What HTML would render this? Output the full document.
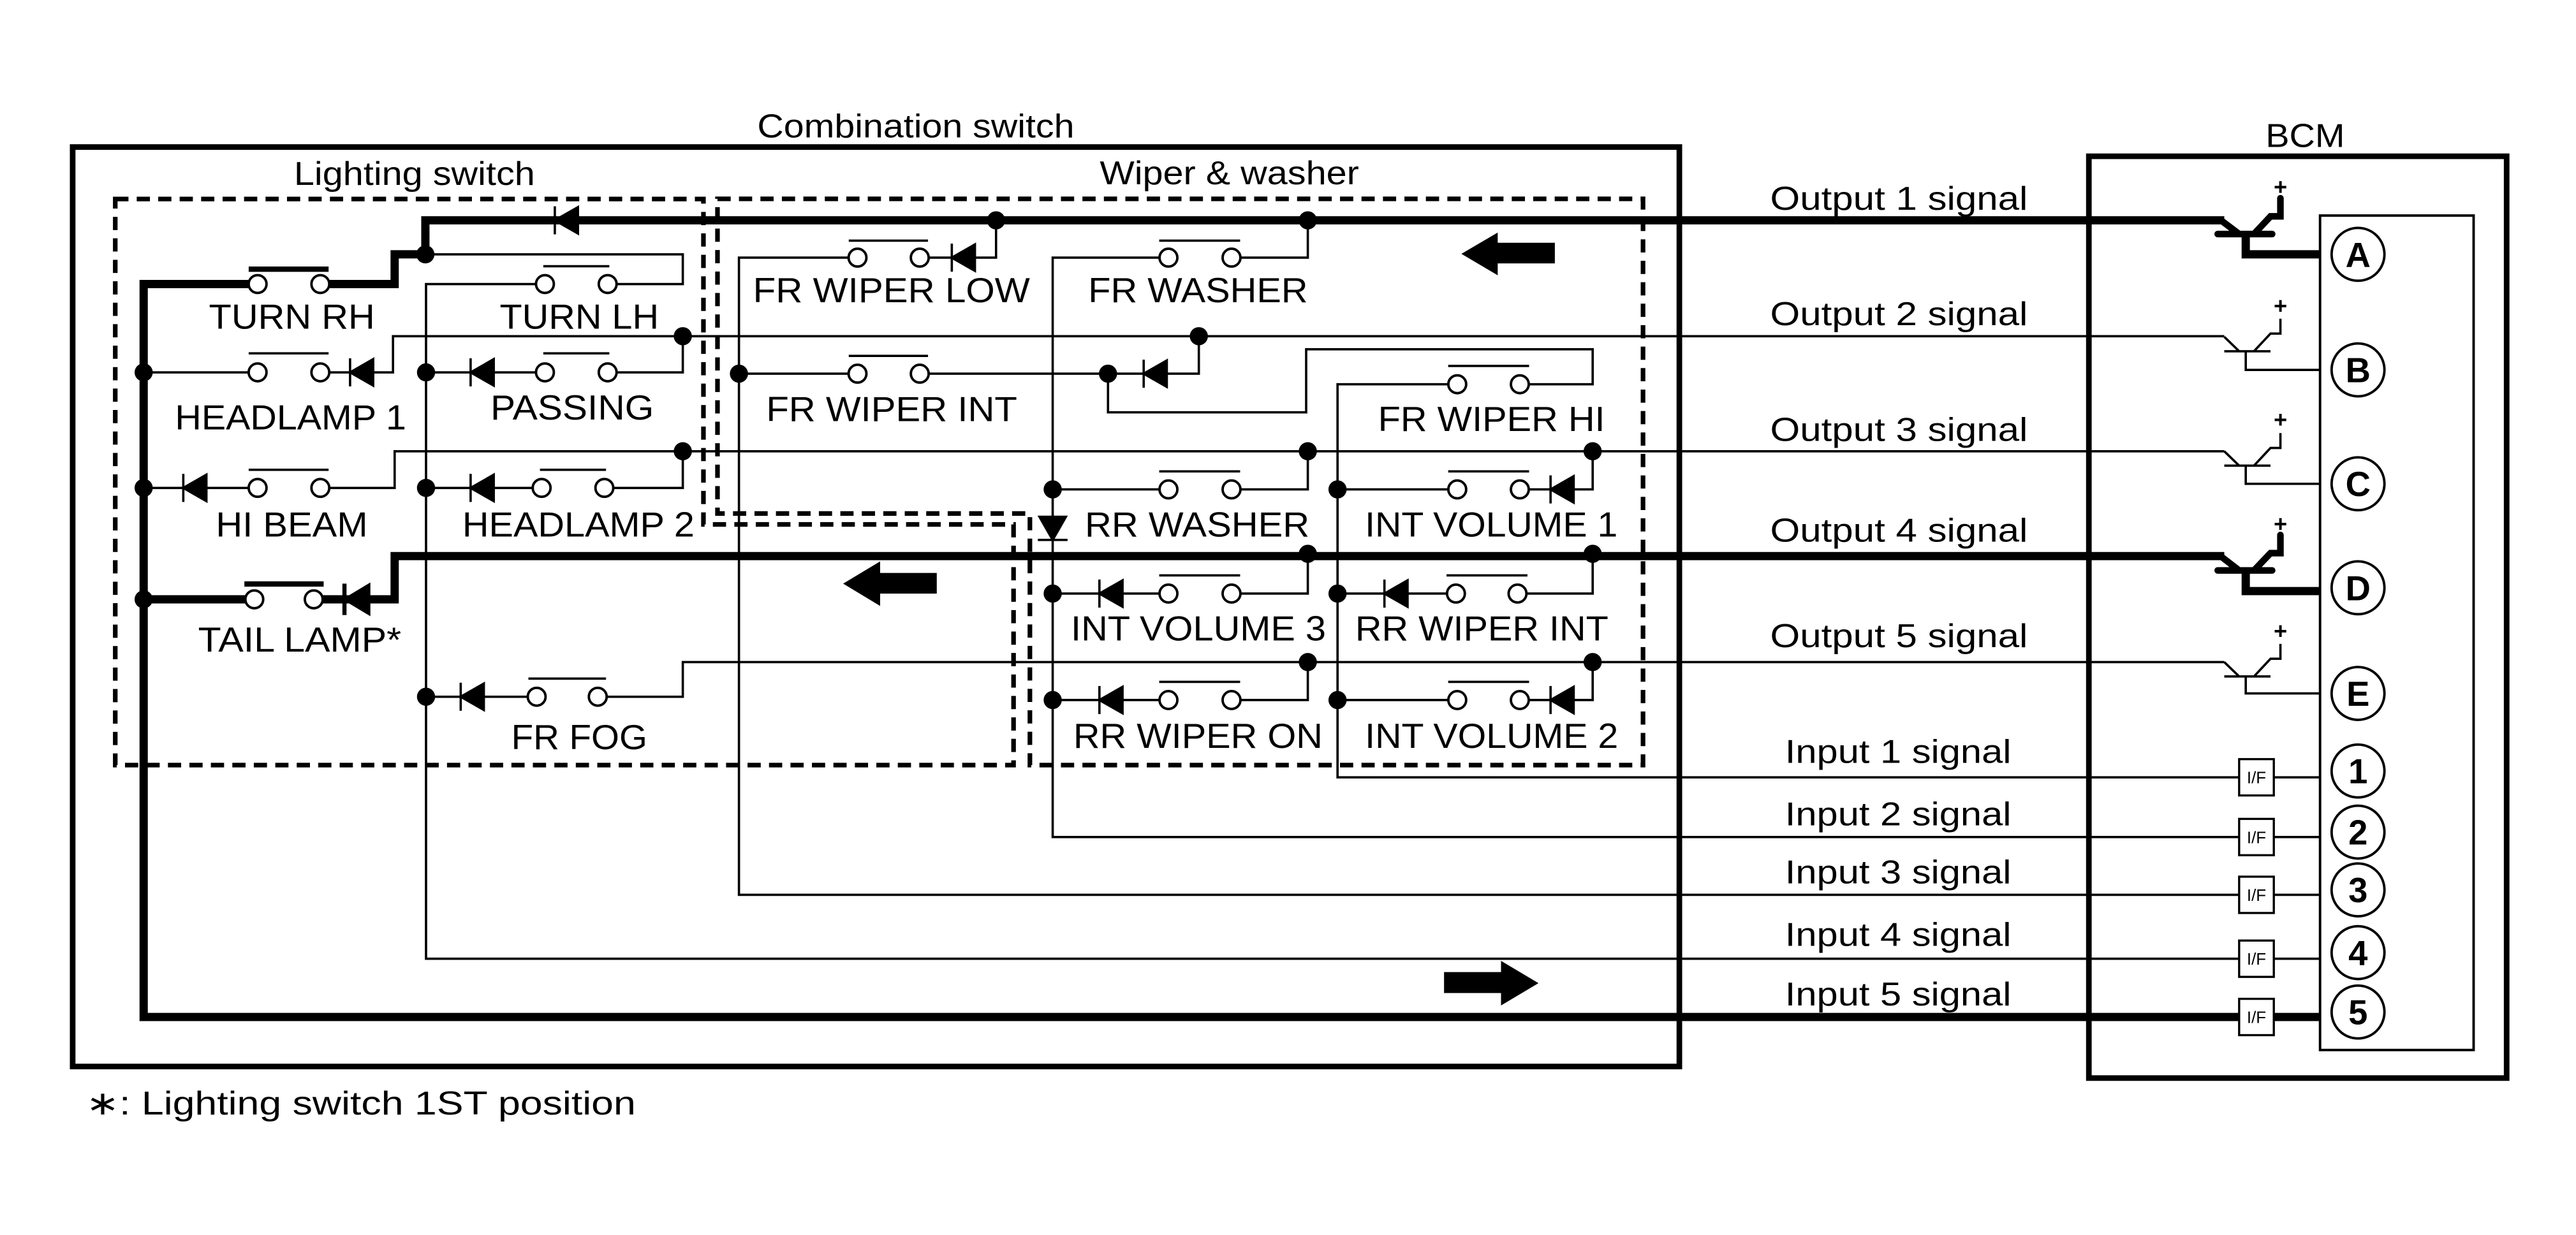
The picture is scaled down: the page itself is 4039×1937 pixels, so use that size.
<!DOCTYPE html>
<html><head><meta charset="utf-8"><style>
html,body{margin:0;padding:0;background:#fff;}
svg{display:block;}
text{font-family:"Liberation Sans",Arial,sans-serif;fill:#000;}
</style></head><body>
<svg width="4039" height="1937" viewBox="0 0 1560 748" xmlns="http://www.w3.org/2000/svg">
<defs>
<g id="dL"><polygon points="0,0 14,-8 14,8"/><line x1="0" y1="-8.5" x2="0" y2="8.5"/></g>
</defs>
<rect width="1560" height="748" fill="#fff"/>
<!-- boxes -->
<rect x="44" y="89" width="973" height="557" fill="none" stroke="#000" stroke-width="3.4"/>
<rect x="1265" y="94.6" width="253" height="558.4" fill="none" stroke="#000" stroke-width="3.4"/>
<rect x="1405" y="130.5" width="93" height="505.5" fill="none" stroke="#000" stroke-width="1.5"/>
<g fill="none" stroke="#000" stroke-width="2.8" stroke-dasharray="8,5">
<path d="M69.8 120.5 H426 V317.6 H613.8 V463.4 H69.8 Z"/>
<path d="M434.5 120.4 H995 V463.4 H623.7 V311 H434.5 Z"/>
</g>
<g font-size="20">
<text x="458.6" y="83.2" textLength="192" lengthAdjust="spacingAndGlyphs">Combination switch</text>
<text x="178" y="112" textLength="146" lengthAdjust="spacingAndGlyphs">Lighting switch</text>
<text x="666" y="111.6" textLength="157" lengthAdjust="spacingAndGlyphs">Wiper &amp; washer</text>
<text x="1372" y="89" textLength="48" lengthAdjust="spacingAndGlyphs">BCM</text>
<text x="52" y="675" textLength="333" lengthAdjust="spacingAndGlyphs">∗: Lighting switch 1ST position</text>
</g>
<!-- THICK lines -->
<g fill="none" stroke="#000" stroke-width="5" stroke-linejoin="miter">
<path d="M1347 133.4 H257.6 V154 H239 V172 H194"/>
<path d="M156 172 H87 V616 H1405"/>
<path d="M87 363 H154 M190 363 H239 V336.8 H1347"/>
<path d="M1360 141.7 V154 H1405"/>
<path d="M1360 346 V358 H1405"/>
</g>
<g stroke="#000" stroke-width="3.2" fill="none">
<line x1="150.6" y1="163" x2="199" y2="163"/>
<line x1="148" y1="353.7" x2="196" y2="353.7"/>
</g>
<!-- THIN lines -->
<g fill="none" stroke="#000" stroke-width="1.4">
<path d="M257.6 154 H413.5 V172 H368"/>
<path d="M330 172 H258 V580.7 H1405"/>
<path d="M87 225.5 H156 M194 225.5 H238 V203.6 H1347"/>
<path d="M413.5 203.6 V225.5 H368 M330 225.5 H258"/>
<path d="M87 295.5 H156 M194 295.5 H239 V273.3 H1347"/>
<path d="M413.5 273.3 V295.5 H366 M328 295.5 H258"/>
<path d="M258 422 H325 M362 422 H413.5 V401 H1347"/>
<path d="M603.2 133.4 V156 H557 M519.3 156 H447.5 V542 H1405"/>
<path d="M792 133.4 V156 H745.8 M707.6 156 H637.5 V507 H1405"/>
<path d="M447.5 226.3 H519.3 M557 226.3 H671 H726 V203.6"/>
<path d="M671 226.3 V249.7 H791 V211.5 H964.5 V232.7 H920.4 M882.5 232.7 H810 V470.8 H1405"/>
<path d="M637.5 296.4 H707.6 M745.8 296.4 H792 V273.3"/>
<path d="M810 296.4 H882.5 M920.4 296.4 H964.5 V273.3"/>
<path d="M637.5 359.5 H707.6 M745.8 359.5 H792 V335.4"/>
<path d="M810 359.5 H881.7 M919 359.5 H964.5 V335.4"/>
<path d="M637.5 424 H707.6 M745.8 424 H792 V401"/>
<path d="M810 424 H882.5 M920.4 424 H964.5 V401"/>
<line x1="329" y1="161.2" x2="369" y2="161.2"/>
<line x1="150.6" y1="214" x2="199" y2="214"/>
<line x1="329" y1="214" x2="369" y2="214"/>
<line x1="150.6" y1="284.5" x2="199" y2="284.5"/>
<line x1="327" y1="284.5" x2="367" y2="284.5"/>
<line x1="320" y1="411" x2="367" y2="411"/>
<line x1="514" y1="145.7" x2="562" y2="145.7"/>
<line x1="702" y1="145.7" x2="751" y2="145.7"/>
<line x1="514" y1="215.5" x2="562" y2="215.5"/>
<line x1="877" y1="221.6" x2="926" y2="221.6"/>
<line x1="702" y1="285.5" x2="751" y2="285.5"/>
<line x1="877" y1="285.5" x2="926" y2="285.5"/>
<line x1="702" y1="348.5" x2="751" y2="348.5"/>
<line x1="876" y1="348.5" x2="925" y2="348.5"/>
<line x1="702" y1="413" x2="751" y2="413"/>
<line x1="877" y1="413" x2="926" y2="413"/>
</g>
<!-- diodes -->
<g fill="#000" stroke="#000" stroke-width="1.4">
<use href="#dL" transform="translate(336,133.4)"/>
<use href="#dL" transform="translate(212,225.5)"/>
<use href="#dL" transform="translate(285,225.5)"/>
<use href="#dL" transform="translate(111,295.5)"/>
<use href="#dL" transform="translate(285,295.5)"/>
<use href="#dL" transform="translate(279,422)"/>
<use href="#dL" transform="translate(576.4,156)"/>
<use href="#dL" transform="translate(692.6,226.3)"/>
<use href="#dL" transform="translate(939,296.4)"/>
<use href="#dL" transform="translate(665.8,359.5)"/>
<use href="#dL" transform="translate(838.4,359.5)"/>
<use href="#dL" transform="translate(665.8,424)"/>
<use href="#dL" transform="translate(939,424)"/>
<g transform="translate(208.6,363)"><polygon points="0,0 15,-9 15,9"/><line x1="0" y1="-9.5" x2="0" y2="9.5" stroke-width="2.5"/></g>
<g transform="translate(637.5,327) rotate(-90)"><polygon points="0,0 14,-8 14,8"/><line x1="0" y1="-9" x2="0" y2="9"/></g>
</g>
<!-- switch contacts -->
<g fill="#fff" stroke="#000" stroke-width="1.5">
<circle cx="156" cy="172" r="5.4"/><circle cx="194" cy="172" r="5.4"/>
<circle cx="330" cy="172" r="5.4"/><circle cx="368" cy="172" r="5.4"/>
<circle cx="156" cy="225.5" r="5.4"/><circle cx="194" cy="225.5" r="5.4"/>
<circle cx="330" cy="225.5" r="5.4"/><circle cx="368" cy="225.5" r="5.4"/>
<circle cx="156" cy="295.5" r="5.4"/><circle cx="194" cy="295.5" r="5.4"/>
<circle cx="328" cy="295.5" r="5.4"/><circle cx="366" cy="295.5" r="5.4"/>
<circle cx="154" cy="363" r="5.4"/><circle cx="190" cy="363" r="5.4"/>
<circle cx="325" cy="422" r="5.4"/><circle cx="362" cy="422" r="5.4"/>
<circle cx="519.3" cy="156" r="5.4"/><circle cx="557" cy="156" r="5.4"/>
<circle cx="707.6" cy="156" r="5.4"/><circle cx="745.8" cy="156" r="5.4"/>
<circle cx="519.3" cy="226.3" r="5.4"/><circle cx="557" cy="226.3" r="5.4"/>
<circle cx="882.5" cy="232.7" r="5.4"/><circle cx="920.4" cy="232.7" r="5.4"/>
<circle cx="707.6" cy="296.4" r="5.4"/><circle cx="745.8" cy="296.4" r="5.4"/>
<circle cx="882.5" cy="296.4" r="5.4"/><circle cx="920.4" cy="296.4" r="5.4"/>
<circle cx="707.6" cy="359.5" r="5.4"/><circle cx="745.8" cy="359.5" r="5.4"/>
<circle cx="881.7" cy="359.5" r="5.4"/><circle cx="919" cy="359.5" r="5.4"/>
<circle cx="707.6" cy="424" r="5.4"/><circle cx="745.8" cy="424" r="5.4"/>
<circle cx="882.5" cy="424" r="5.4"/><circle cx="920.4" cy="424" r="5.4"/>
</g>
<!-- junction dots -->
<g fill="#000">
<circle cx="257.6" cy="154" r="5.5"/>
<circle cx="87" cy="225.5" r="5.5"/><circle cx="258" cy="225.5" r="5.5"/><circle cx="413.5" cy="203.6" r="5.5"/>
<circle cx="87" cy="295.5" r="5.5"/><circle cx="258" cy="295.5" r="5.5"/><circle cx="413.5" cy="273.3" r="5.5"/>
<circle cx="87" cy="363" r="5.5"/><circle cx="258" cy="422" r="5.5"/>
<circle cx="603.2" cy="133.4" r="5.5"/><circle cx="792" cy="133.4" r="5.5"/>
<circle cx="447.5" cy="226.3" r="5.5"/><circle cx="671" cy="226.3" r="5.5"/><circle cx="726" cy="203.6" r="5.5"/>
<circle cx="792" cy="273.3" r="5.5"/><circle cx="964.5" cy="273.3" r="5.5"/>
<circle cx="637.5" cy="296.4" r="5.5"/><circle cx="810" cy="296.4" r="5.5"/>
<circle cx="792" cy="335.4" r="5.5"/><circle cx="964.5" cy="335.4" r="5.5"/>
<circle cx="637.5" cy="359.5" r="5.5"/><circle cx="810" cy="359.5" r="5.5"/>
<circle cx="792" cy="401" r="5.5"/><circle cx="964.5" cy="401" r="5.5"/>
<circle cx="637.5" cy="424" r="5.5"/><circle cx="810" cy="424" r="5.5"/>
</g>
<!-- arrows -->
<g fill="#000">
<polygon points="885,153.7 907,140.8 907,147 941.6,147 941.6,159.5 907,159.5 907,166.7"/>
<polygon points="510.6,353.5 533,340 533,347 567.3,347 567.3,359.5 533,359.5 533,367"/>
<polygon points="931.7,595.5 909,582 909,588.8 874.5,588.8 874.5,601.5 909,601.5 909,609"/>
</g>
<!-- labels -->
<g font-size="21">
<text x="126.5" y="199" textLength="100.5" lengthAdjust="spacingAndGlyphs">TURN RH</text>
<text x="302.6" y="199" textLength="96.4" lengthAdjust="spacingAndGlyphs">TURN LH</text>
<text x="106" y="260" textLength="140" lengthAdjust="spacingAndGlyphs">HEADLAMP 1</text>
<text x="297" y="254" textLength="99" lengthAdjust="spacingAndGlyphs">PASSING</text>
<text x="130.7" y="325" textLength="92" lengthAdjust="spacingAndGlyphs">HI BEAM</text>
<text x="280" y="325" textLength="140.6" lengthAdjust="spacingAndGlyphs">HEADLAMP 2</text>
<text x="120" y="394.7" textLength="123" lengthAdjust="spacingAndGlyphs">TAIL LAMP*</text>
<text x="309.6" y="453.7" textLength="82.4" lengthAdjust="spacingAndGlyphs">FR FOG</text>
<text x="456" y="183" textLength="167.7" lengthAdjust="spacingAndGlyphs">FR WIPER LOW</text>
<text x="659" y="183" textLength="133" lengthAdjust="spacingAndGlyphs">FR WASHER</text>
<text x="464" y="255" textLength="152" lengthAdjust="spacingAndGlyphs">FR WIPER INT</text>
<text x="834.5" y="261" textLength="137.5" lengthAdjust="spacingAndGlyphs">FR WIPER HI</text>
<text x="657" y="325" textLength="136" lengthAdjust="spacingAndGlyphs">RR WASHER</text>
<text x="826.6" y="325" textLength="153" lengthAdjust="spacingAndGlyphs">INT VOLUME 1</text>
<text x="648.5" y="388" textLength="154.5" lengthAdjust="spacingAndGlyphs">INT VOLUME 3</text>
<text x="820.7" y="388" textLength="153.3" lengthAdjust="spacingAndGlyphs">RR WIPER INT</text>
<text x="650" y="453" textLength="151" lengthAdjust="spacingAndGlyphs">RR WIPER ON</text>
<text x="826.6" y="453" textLength="153.4" lengthAdjust="spacingAndGlyphs">INT VOLUME 2</text>
</g>
<g font-size="20">
<text x="1072" y="127" textLength="156" lengthAdjust="spacingAndGlyphs">Output 1 signal</text>
<text x="1072" y="197" textLength="156" lengthAdjust="spacingAndGlyphs">Output 2 signal</text>
<text x="1072" y="267" textLength="156" lengthAdjust="spacingAndGlyphs">Output 3 signal</text>
<text x="1072" y="328" textLength="156" lengthAdjust="spacingAndGlyphs">Output 4 signal</text>
<text x="1072" y="392" textLength="156" lengthAdjust="spacingAndGlyphs">Output 5 signal</text>
<text x="1081" y="462" textLength="137" lengthAdjust="spacingAndGlyphs">Input 1 signal</text>
<text x="1081" y="500" textLength="137" lengthAdjust="spacingAndGlyphs">Input 2 signal</text>
<text x="1081" y="535" textLength="137" lengthAdjust="spacingAndGlyphs">Input 3 signal</text>
<text x="1081" y="573" textLength="137" lengthAdjust="spacingAndGlyphs">Input 4 signal</text>
<text x="1081" y="609" textLength="137" lengthAdjust="spacingAndGlyphs">Input 5 signal</text>
</g>
<!-- transistors -->
<g fill="none" stroke="#000" stroke-width="1.4">
<path d="M1347 204 L1356 212.7 M1347 212.7 H1375 M1360 212.7 V224 H1405 M1365 212.7 L1375 202 H1381 V193"/>
<path d="M1347 273.3 L1356 282 M1347 282 H1375 M1360 282 V293 H1405 M1365 282 L1375 271.3 H1381 V262.3"/>
<path d="M1347 401 L1356 409.7 M1347 409.7 H1375 M1360 409.7 V420 H1405 M1365 409.7 L1375 399 H1381 V390"/>
</g>
<g fill="none" stroke="#000" stroke-width="4" stroke-linecap="round">
<path d="M1345 133.4 L1356 141.7 M1343 141.7 H1376 M1365 141.7 L1375 131 H1381 V120"/>
<path d="M1345 337 L1356 345.5 M1343 345.5 H1376 M1365 345.5 L1375 335 H1381 V324"/>
</g>
<g font-size="14" text-anchor="middle" font-weight="bold">
<text x="1381" y="118">+</text><text x="1381" y="190">+</text><text x="1381" y="259">+</text><text x="1381" y="322">+</text><text x="1381" y="387">+</text>
</g>
<!-- I/F boxes -->
<g fill="#fff" stroke="#000" stroke-width="1.3">
<rect x="1356" y="459.8" width="21" height="22"/>
<rect x="1356" y="496" width="21" height="22"/>
<rect x="1356" y="531" width="21" height="22"/>
<rect x="1356" y="569.7" width="21" height="22"/>
<rect x="1356" y="605" width="21" height="22"/>
</g>
<g font-size="10" text-anchor="middle">
<text x="1366.5" y="474.5">I/F</text><text x="1366.5" y="510.7">I/F</text><text x="1366.5" y="545.7">I/F</text><text x="1366.5" y="584.4">I/F</text><text x="1366.5" y="619.7">I/F</text>
</g>
<!-- pin circles -->
<g fill="#fff" stroke="#000" stroke-width="1.5">
<circle cx="1428" cy="154" r="16"/><circle cx="1428" cy="224" r="16"/><circle cx="1428" cy="293" r="16"/><circle cx="1428" cy="356" r="16"/><circle cx="1428" cy="420" r="16"/>
<circle cx="1428" cy="467" r="16"/><circle cx="1428" cy="504" r="16"/><circle cx="1428" cy="539" r="16"/><circle cx="1428" cy="577" r="16"/><circle cx="1428" cy="613" r="16"/>
</g>
<g font-size="21" font-weight="bold" text-anchor="middle">
<text x="1428" y="161.5">A</text><text x="1428" y="231.5">B</text><text x="1428" y="300.5">C</text><text x="1428" y="363.5">D</text><text x="1428" y="427.5">E</text>
<text x="1428" y="474.5">1</text><text x="1428" y="511.5">2</text><text x="1428" y="546.5">3</text><text x="1428" y="584.5">4</text><text x="1428" y="620.5">5</text>
</g>
</svg>
</body></html>
